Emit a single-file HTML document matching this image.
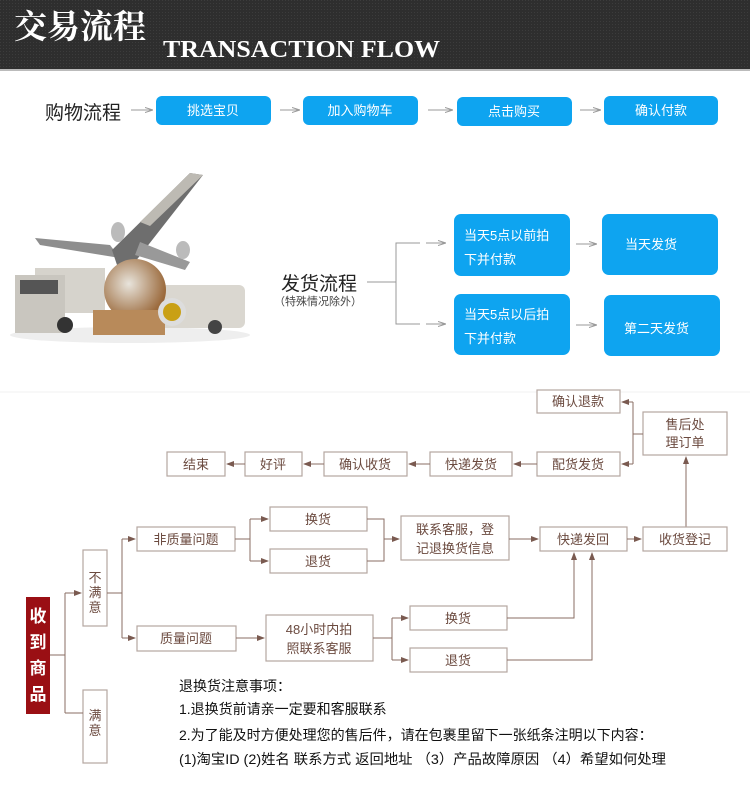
<!DOCTYPE html>
<html><head><meta charset="utf-8"><style>
html,body{margin:0;padding:0;background:#fff}
svg{display:block}
text{font-family:"Liberation Sans","Noto Sans CJK SC",sans-serif}
.b{fill:#fff;stroke:#b5a6a1;stroke-width:1.2}
.t{fill:#6b4a3f;font-size:13px;text-anchor:middle}
.l{stroke:#8a6d63;stroke-width:1;fill:none}
.bl{fill:#0ea4f0}
.w{fill:#fff;font-size:13px}
</style></head><body>
<svg width="750" height="800" viewBox="0 0 750 800" xmlns="http://www.w3.org/2000/svg">
<defs>
<marker id="a" markerWidth="8" markerHeight="6" refX="7" refY="3" orient="auto" markerUnits="userSpaceOnUse"><path d="M0,0 L8,3 L0,6 z" fill="#7a5a50"/></marker>
<marker id="g" markerWidth="8" markerHeight="6" refX="7" refY="3" orient="auto" markerUnits="userSpaceOnUse"><path d="M0,0.5 L8,3 L0,5.5" fill="none" stroke="#999" stroke-width="1"/></marker>
<pattern id="p" width="3" height="3" patternUnits="userSpaceOnUse"><rect width="3" height="3" fill="#2e2e2e"/><rect width="1" height="1" fill="#3c3c3c"/></pattern>
<radialGradient id="gl" cx="0.4" cy="0.4" r="0.6"><stop offset="0" stop-color="#e8e4dc"/><stop offset="1" stop-color="#9b6a3c"/></radialGradient>
</defs>
<!-- header -->
<rect x="0" y="0" width="750" height="69" fill="url(#p)"/>
<rect x="0" y="69" width="750" height="2" fill="#bbb"/>
<text x="14" y="38" font-size="33" font-weight="bold" fill="#fff" style="font-family:'Liberation Serif','Noto Serif CJK SC',serif">交易流程</text>
<text x="163" y="57" font-size="24" font-weight="bold" fill="#fff" textLength="277" lengthAdjust="spacingAndGlyphs" style="font-family:'Liberation Serif',serif">TRANSACTION FLOW</text>
<!-- shopping -->
<text x="45" y="119" font-size="19" fill="#222">购物流程</text>
<g stroke="#999" stroke-width="1" marker-end="url(#g)">
<line x1="131" y1="110" x2="152" y2="110"/><line x1="280" y1="110" x2="299" y2="110"/>
<line x1="428" y1="110" x2="452" y2="110"/><line x1="580" y1="110" x2="600" y2="110"/></g>
<rect class="bl" x="156" y="96" width="115" height="29" rx="6"/><text x="213" y="115" class="w" text-anchor="middle">挑选宝贝</text>
<rect class="bl" x="303" y="96" width="115" height="29" rx="6"/><text x="360" y="115" class="w" text-anchor="middle">加入购物车</text>
<rect class="bl" x="457" y="97" width="115" height="29" rx="6"/><text x="514" y="116" class="w" text-anchor="middle">点击购买</text>
<rect class="bl" x="604" y="96" width="114" height="29" rx="6"/><text x="661" y="115" class="w" text-anchor="middle">确认付款</text>
<!-- image approx -->
<ellipse cx="130" cy="335" rx="120" ry="8" fill="#eee"/>
<polygon points="35,238 110,245 120,258 40,245" fill="#8e8e8e"/>
<polygon points="203,175 190,173 112,250 118,268 135,262" fill="#6e6e6e"/>
<polygon points="203,175 190,173 140,222 150,226" fill="#bdbab3"/>
<polygon points="140,242 190,262 185,270 135,255" fill="#999"/>
<ellipse cx="118" cy="232" rx="7" ry="10" fill="#bbb"/><ellipse cx="183" cy="250" rx="7" ry="9" fill="#bbb"/>
<rect x="35" y="268" width="70" height="45" fill="#d6d3cc"/>
<rect x="15" y="275" width="50" height="58" fill="#c9c6bf"/>
<rect x="20" y="280" width="38" height="14" fill="#555"/>
<circle cx="65" cy="325" r="8" fill="#333"/>
<rect x="160" y="285" width="85" height="43" rx="6" fill="#dad7d0"/>
<circle cx="215" cy="327" r="7" fill="#444"/>
<circle cx="135" cy="290" r="31" fill="url(#gl)"/>
<rect x="93" y="310" width="72" height="25" fill="#b88a5a"/>
<circle cx="172" cy="312" r="14" fill="#ddd"/><circle cx="172" cy="312" r="9" fill="#c9a015"/>
<!-- shipping flow -->
<text x="281" y="290" font-size="19" fill="#222">发货流程</text>
<text x="274" y="305" font-size="11" fill="#444">（特殊情况除外）</text>
<g stroke="#999" stroke-width="1" fill="none">
<line x1="367" y1="282" x2="396" y2="282"/><polyline points="420,243 396,243 396,324 420,324"/></g>
<g stroke="#999" stroke-width="1" marker-end="url(#g)">
<line x1="426" y1="243" x2="445" y2="243"/><line x1="426" y1="324" x2="445" y2="324"/>
<line x1="576" y1="244" x2="596" y2="244"/><line x1="576" y1="325" x2="596" y2="325"/></g>
<rect class="bl" x="454" y="214" width="116" height="62" rx="7"/>
<text x="464" y="240" class="w">当天5点以前拍</text><text x="464" y="264" class="w">下并付款</text>
<rect class="bl" x="602" y="214" width="116" height="61" rx="7"/><text x="625" y="249" class="w">当天发货</text>
<rect class="bl" x="454" y="294" width="116" height="61" rx="7"/>
<text x="464" y="319" class="w">当天5点以后拍</text><text x="464" y="343" class="w">下并付款</text>
<rect class="bl" x="604" y="295" width="116" height="61" rx="7"/><text x="624" y="333" class="w">第二天发货</text>
<line x1="0" y1="392" x2="750" y2="392" stroke="#f2f2f2"/>
<!-- after-sales -->
<rect class="b" x="537" y="390" width="83" height="23"/><text class="t" x="578" y="406">确认退款</text>
<rect class="b" x="643" y="412" width="84" height="43"/><text class="t" x="685" y="429">售后处</text><text class="t" x="685" y="447">理订单</text>
<rect class="b" x="167" y="452" width="58" height="24"/><text class="t" x="196" y="469">结束</text>
<rect class="b" x="245" y="452" width="57" height="24"/><text class="t" x="273" y="469">好评</text>
<rect class="b" x="324" y="452" width="83" height="24"/><text class="t" x="365" y="469">确认收货</text>
<rect class="b" x="430" y="452" width="82" height="24"/><text class="t" x="471" y="469">快递发货</text>
<rect class="b" x="537" y="452" width="83" height="24"/><text class="t" x="578" y="469">配货发货</text>
<g class="l" marker-end="url(#a)">
<line x1="245" y1="464" x2="227" y2="464"/><line x1="324" y1="464" x2="304" y2="464"/>
<line x1="430" y1="464" x2="409" y2="464"/><line x1="537" y1="464" x2="514" y2="464"/>
<polyline points="633,402 622,402"/><polyline points="633,464 622,464"/>
<line x1="686" y1="527" x2="686" y2="457"/></g>
<polyline class="l" points="643,434 633,434"/><line class="l" x1="633" y1="402" x2="633" y2="464"/>
<rect class="b" x="137" y="527" width="98" height="24"/><text class="t" x="186" y="544">非质量问题</text>
<rect class="b" x="270" y="507" width="97" height="24"/><text class="t" x="318" y="524">换货</text>
<rect class="b" x="270" y="549" width="97" height="24"/><text class="t" x="318" y="566">退货</text>
<rect class="b" x="401" y="516" width="108" height="44"/><text class="t" x="455" y="534">联系客服，登</text><text class="t" x="455" y="553">记退换货信息</text>
<rect class="b" x="540" y="527" width="87" height="24"/><text class="t" x="583" y="544">快递发回</text>
<rect class="b" x="643" y="527" width="84" height="24"/><text class="t" x="685" y="544">收货登记</text>
<rect x="26" y="597" width="24" height="117" fill="#9a0f14"/>
<g fill="#fff" font-size="17" font-weight="bold" text-anchor="middle"><text x="38" y="622">收</text><text x="38" y="648">到</text><text x="38" y="674">商</text><text x="38" y="700">品</text></g>
<rect class="b" x="83" y="550" width="24" height="76"/><text class="t" x="95" y="582">不</text><text class="t" x="95" y="597">满</text><text class="t" x="95" y="612">意</text>
<rect class="b" x="83" y="690" width="24" height="73"/><text class="t" x="95" y="720">满</text><text class="t" x="95" y="735">意</text>
<rect class="b" x="137" y="626" width="99" height="25"/><text class="t" x="186" y="643">质量问题</text>
<rect class="b" x="266" y="615" width="107" height="46"/><text class="t" x="319" y="634">48小时内拍</text><text class="t" x="319" y="653">照联系客服</text>
<rect class="b" x="410" y="606" width="97" height="24"/><text class="t" x="458" y="623">换货</text>
<rect class="b" x="410" y="648" width="97" height="24"/><text class="t" x="458" y="665">退货</text>
<g class="l">
<polyline points="50,655 65,655"/><line x1="65" y1="593" x2="65" y2="713"/><line x1="65" y1="713" x2="83" y2="713"/>
<polyline points="107,593 122,593"/><line x1="122" y1="539" x2="122" y2="638"/>
<polyline points="235,539 250,539"/><line x1="250" y1="519" x2="250" y2="561"/>
<polyline points="367,519 384,519 384,561 367,561"/><line x1="384" y1="539" x2="392" y2="539"/>
<polyline points="373,638 392,638"/><line x1="392" y1="618" x2="392" y2="660"/>
<polyline points="507,618 574,618 574,560"/><polyline points="507,660 592,660 592,560"/>
</g>
<g class="l" marker-end="url(#a)">
<line x1="65" y1="593" x2="81" y2="593"/>
<line x1="122" y1="539" x2="135" y2="539"/><line x1="122" y1="638" x2="135" y2="638"/>
<line x1="250" y1="519" x2="268" y2="519"/><line x1="250" y1="561" x2="268" y2="561"/>
<line x1="392" y1="539" x2="399" y2="539"/>
<line x1="509" y1="539" x2="538" y2="539"/><line x1="627" y1="539" x2="641" y2="539"/>
<line x1="236" y1="638" x2="264" y2="638"/>
<line x1="392" y1="618" x2="408" y2="618"/><line x1="392" y1="660" x2="408" y2="660"/>
<line x1="574" y1="560" x2="574" y2="553"/><line x1="592" y1="560" x2="592" y2="553"/>
</g>
<g font-size="14" fill="#111">
<text x="179" y="691">退换货注意事项：</text>
<text x="179" y="714">1.退换货前请亲一定要和客服联系</text>
<text x="179" y="740">2.为了能及时方便处理您的售后件，请在包裹里留下一张纸条注明以下内容：</text>
<text x="179" y="764" textLength="487" lengthAdjust="spacingAndGlyphs">(1)淘宝ID  (2)姓名 联系方式 返回地址 （3）产品故障原因 （4）希望如何处理</text>
</g>
</svg>
</body></html>
